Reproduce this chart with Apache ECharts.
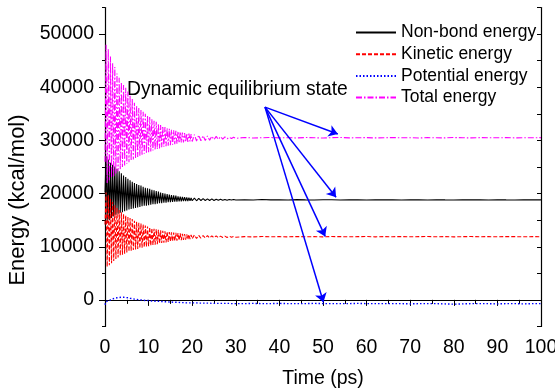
<!DOCTYPE html>
<html>
<head>
<meta charset="utf-8">
<script src="https://cdn.jsdelivr.net/npm/echarts@6/dist/echarts.min.js"></script>
<style>html,body{margin:0;padding:0;background:#fff}#c{width:555px;height:389px}</style>
</head>
<body>
<div id="c"></div>
<script>
var timePs = [0,0.25,0.5,0.75,1,1.25,1.5,1.75,2,2.25,2.5,2.75,3,3.25,3.5,3.75,4,4.25,4.5,4.75,5,5.25,5.5,5.75,6,6.25,6.5,6.75,7,7.25,7.5,7.75,8,8.25,8.5,8.75,9,9.25,9.5,9.75,10,10.25,10.5,10.75,11,11.25,11.5,11.75,12,12.25,12.5,12.75,13,13.25,13.5,13.75,14,14.25,14.5,14.75,15,15.25,15.5,15.75,16,16.25,16.5,16.75,17,17.25,17.5,17.75,18,18.25,18.5,18.75,19,19.25,19.5,19.75,20,
  20.5,21,21.5,22,22.5,23,23.5,24,24.5,25,25.5,26,26.5,27,27.5,28,28.5,29,29.5,30,
  32,34,36,38,40,42,44,46,48,50,52,54,56,58,60,62,64,66,68,70,72,74,76,78,80,82,84,86,88,90,92,94,96,98,100];

var nonBond = [20200,27000,14400,26400,15000,25800,15400,25400,15700,25100,
  16000,24600,16200,24200,16400,23800,16500,23400,16700,23100,
  16800,22800,17000,22500,17100,22200,17200,22000,17300,21800,
  17400,21600,17500,21500,17600,21300,17700,21100,17700,21000,
  17800,20900,17900,20700,18000,20600,18000,20500,18100,20400,
  18200,20200,18200,20100,18300,20000,18300,19900,18400,19800,
  18400,19700,18450,19650,18500,19600,18500,19500,18550,19450,
  18550,19400,18600,19350,18600,19300,18600,19250,18650,19200,
  18650,
  19150,18650,19100,18700,19050,18700,19000,18700,19000,18700,18950,18750,18950,18750,18900,18750,18900,18800,18900,18800,
  18850,18800,18880,18820,18840,18800,18860,18820,18800,18850,18830,18800,18840,18820,18800,18850,18810,18830,18800,18840,
  18820,18800,18850,18820,18800,18840,18810,18830,18800,18850,18820,18800,18830,18810,18820];

var kinetic = [14200,20200,6200,19700,6500,19000,6900,18400,7300,17800,
  7700,17300,8000,16900,8300,16500,8500,16200,8700,15900,
  8900,15600,9100,15400,9200,15200,9400,14900,9500,14700,
  9600,14500,9700,14400,9800,14200,9900,14000,10000,13800,
  10100,13700,10200,13500,10300,13400,10400,13300,10500,13200,
  10600,13100,10700,13000,10750,12900,10800,12850,10900,12750,
  10950,12700,11050,12650,11100,12600,11150,12550,11200,12500,
  11250,12450,11300,12400,11350,12350,11400,12300,11450,12250,
  11500,
  12200,11550,12150,11600,12100,11650,12100,11650,12050,11700,12050,11700,12000,11750,12000,11750,12000,11800,11950,11800,
  11900,11850,11920,11880,11900,11860,11920,11880,11900,11850,11920,11900,11880,11900,11920,11860,11900,11890,11910,11880,
  11900,11920,11880,11900,11860,11900,11920,11890,11900,11880,11910,11900,11880,11900,11890];

var potential = [-900,-300,-500,-200,-300,0,-100,200,100,300,
  200,400,300,450,350,500,400,500,400,450,
  350,400,300,300,200,250,150,150,100,100,
  50,50,0,0,-50,-50,-50,-100,-100,-100,
  -150,-150,-150,-200,-200,-200,-250,-250,-250,-250,
  -300,-300,-300,-300,-350,-350,-350,-350,-400,-400,
  -400,-400,-400,-450,-450,-450,-450,-450,-500,-500,
  -500,-500,-500,-500,-550,-550,-550,-550,-550,-550,
  -550,
  -550,-550,-600,-600,-600,-600,-600,-600,-650,-650,-650,-650,-650,-650,-650,-650,-650,-700,-700,-700,
  -700,-650,-700,-700,-650,-700,-700,-700,-650,-700,-700,-700,-700,-650,-700,-700,-700,-700,-700,-750,
  -700,-700,-700,-750,-800,-750,-700,-700,-700,-750,-700,-700,-750,-700,-700];

var total = [26000,48000,22000,47200,22500,45800,23000,44500,23300,43800,
  23800,42600,24200,41800,24600,41000,25000,40400,25300,39900,
  25600,39200,25900,38400,26200,37800,26400,37100,26700,36600,
  26900,36100,27100,35700,27300,35400,27500,35000,27600,34700,
  27800,34400,27900,34000,28100,33700,28200,33500,28400,33200,
  28500,32900,28700,32700,28800,32500,28900,32300,29000,32200,
  29100,32000,29200,31900,29300,31800,29400,31700,29500,31600,
  29600,31500,29600,31400,29700,31300,29700,31300,29800,31200,
  29800,
  31100,29900,31000,29950,30900,30000,30850,30050,30800,30150,30750,30200,30700,30250,30650,30300,30600,30350,30600,30400,
  30550,30450,30500,30550,30480,30520,30460,30550,30500,30450,30520,30560,30480,30500,30530,30470,30500,30540,30490,30510,
  30460,30520,30500,30480,30540,30500,30470,30520,30500,30490,30530,30480,30510,30500,30520];

var seriesNames = ['Non-bond energy','Kinetic energy','Potential energy','Total energy'];
var yMajorTicks = [0,10000,20000,30000,40000,50000];
var annotationText = 'Dynamic equilibrium state';
var arrowFrom = [36.7, 36260];
var arrowTargets = [[53.4, 31200],[53.0, 19300],[50.5, 11950],[50.1, -450]];

function pairs(arr){ return timePs.map(function(t,i){ return [t, arr[i]]; }); }

var FONT = '"Liberation Sans", Arial, sans-serif';
var chart = echarts.init(document.getElementById('c'), null, {renderer:'canvas'});

var arrowLines = arrowTargets.map(function(p){
  return [{coord: arrowFrom}, {coord: p}];
});

chart.setOption({
  animation: false,
  backgroundColor: '#fff',
  grid: {left:105, right:14, top:7.5, bottom:62.5, containLabel:false, outerBoundsMode:'none'},
  legend: {
    data: seriesNames,
    orient: 'vertical',
    left: 350, top: 18.5,
    itemWidth: 40, itemHeight: 14, itemGap: 3.7,
    itemStyle: {color:'rgba(0,0,0,0)', borderColor:'rgba(0,0,0,0)', borderWidth:0, opacity:0},
    textStyle: {fontFamily: FONT, fontSize: 17.5, color:'#000', lineHeight: 18},
    selectedMode: false
  },
  graphic: [{
    type:'text', left:127, top:80,
    style:{text: annotationText, font: '19.3px "Liberation Sans", Arial, sans-serif', fill:'#000'}
  }],
  xAxis: [{
    type:'value', min:0, max:100, interval:10, position:'bottom',
    name:'Time (ps)', nameLocation:'middle', nameGap:42,
    nameTextStyle:{fontFamily:FONT, fontSize:19.5, color:'#000'},
    axisLine:{lineStyle:{color:'#000', width:1.2}},
    axisTick:{show:true, inside:false, length:6, lineStyle:{color:'#000'}},
    minorTick:{show:true, splitNumber:2, length:3, lineStyle:{color:'#000'}},
    axisLabel:{fontFamily:FONT, fontSize:19.5, color:'#000', margin:11},
    splitLine:{show:false}
  },{
    type:'value', min:0, max:100, interval:5, position:'top',
    axisLine:{show:true, lineStyle:{color:'#000', width:1.2}},
    axisTick:{show:true, inside:true, length:4, lineStyle:{color:'#000'}},
    axisLabel:{show:false}, splitLine:{show:false}
  }],
  yAxis: [{
    type:'value', min:-5000, max:55000, interval:5000, position:'left',
    name:'Energy (kcal/mol)', nameLocation:'middle', nameGap:76,
    nameTextStyle:{fontFamily:FONT, fontSize:22, color:'#000', padding:[0,66,0,0]},
    axisLine:{show:true, lineStyle:{color:'#000', width:1.2}},
    axisTick:{show:true, inside:false, length:6, customValues: yMajorTicks, lineStyle:{color:'#000'}},
    axisLabel:{fontFamily:FONT, fontSize:19.5, color:'#000', margin:11,
      formatter:function(v){ return (v % 10000 === 0 && v >= 0) ? String(v) : ''; }},
    splitLine:{show:false}
  },{
    type:'value', min:-5000, max:55000, interval:5000, position:'left',
    axisLine:{show:false},
    axisTick:{show:true, inside:false, length:3, lineStyle:{color:'#000'}},
    axisLabel:{show:false}, splitLine:{show:false}
  },{
    type:'value', min:-5000, max:55000, interval:5000, position:'right',
    axisLine:{show:true, lineStyle:{color:'#000', width:1.2}},
    axisTick:{show:true, inside:true, length:4, lineStyle:{color:'#000'}},
    axisLabel:{show:false}, splitLine:{show:false}
  }],
  series: [{
    name: seriesNames[0], type:'line', data: pairs(nonBond), symbol:'none', showSymbol:false,
    lineStyle:{color:'#000000', width:1.1, type:'solid'}, itemStyle:{color:'#000000'}
  },{
    name: seriesNames[1], type:'line', data: pairs(kinetic), symbol:'none', showSymbol:false,
    lineStyle:{color:'#ff0000', width:1.1, type:[4,2]}, itemStyle:{color:'#ff0000'}
  },{
    name: seriesNames[2], type:'line', data: pairs(potential), symbol:'none', showSymbol:false,
    lineStyle:{color:'#0000ff', width:1.4, type:[1.5,2]}, itemStyle:{color:'#0000ff'}
  },{
    name: seriesNames[3], type:'line', data: pairs(total), symbol:'none', showSymbol:false,
    lineStyle:{color:'#ff00ff', width:1.1, type:[6,2,1.5,2]}, itemStyle:{color:'#ff00ff'},
    markLine:{
      silent:true, symbol:['none','arrow'], symbolSize:9, animation:false,
      label:{show:false},
      lineStyle:{color:'#0000ff', width:1.5, type:'solid'},
      emphasis:{disabled:true},
      data: arrowLines
    }
  }]
});
</script>
</body>
</html>
